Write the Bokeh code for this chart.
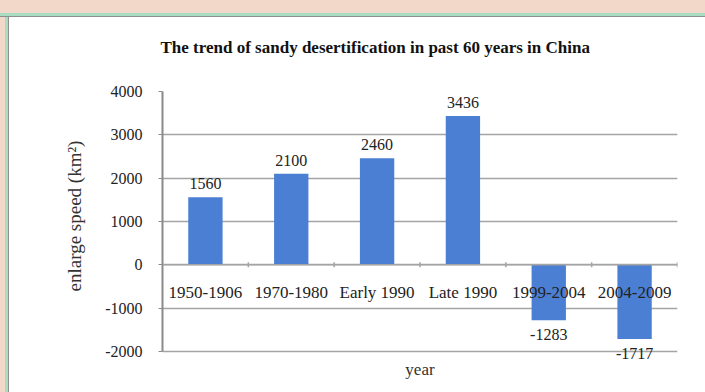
import numpy as np
from bokeh.plotting import figure
from bokeh.models import FactorRange, Range1d, FixedTicker, ColumnDataSource, Span, Title
from bokeh.core.properties import value
from bokeh.embed import file_html
from bokeh.resources import INLINE

categories = ["1950-1906", "1970-1980", "Early 1990", "Late 1990", "1999-2004", "2004-2009"]
speeds = [1560, 2100, 2460, 3436, -1283, -1717]
y_ticks = [-2000, -1000, 0, 1000, 2000, 3000, 4000]
title_text = "The trend of sandy desertification in past 60 years in China"
y_label = "enlarge speed (km\u00b2)"
x_label = "year"

FONT = "Liberation Serif"
W, H = 705, 392
BAR = "#4a7fd4"
GRID = "#a4a4a4"
AXIS = "#8a8a8a"
TXT = "#222222"

Y_MIN_VIEW = -2950   # extra room below -2000 so the lowest labels and "year" are not clipped

p = figure(width=W, height=H,
           x_range=FactorRange(*categories, range_padding=0),
           y_range=Range1d(Y_MIN_VIEW, y_ticks[-1]),
           output_backend="svg", toolbar_location=None,
           min_border_left=162, min_border_right=28,
           min_border_top=90, min_border_bottom=0)
p.background_fill_color = "white"
p.border_fill_color = None
p.outline_line_color = None
p.styles = {"background": "linear-gradient(to bottom, #f2d8c8 0px, #f2d8c8 13px, #a9dcc2 13px, #a9dcc2 16px, #8f8f8f 16px, #8f8f8f 17px, transparent 17px), "
                          "linear-gradient(to right, #f2d8c8 0px, #f2d8c8 5px, #a9dcc2 5px, #a9dcc2 8px, #8f8f8f 8px, #8f8f8f 9px, #ffffff 9px)"}

# title
p.title.text = title_text
p.title.text_font = FONT
p.title.text_font_size = "17px"
p.title.text_font_style = "bold"
p.title.text_color = "#111111"
p.title.align = "left"
p.title.offset = -2
p.title.standoff = 70

p.xaxis.visible = False
p.xgrid.visible = False

p.yaxis.ticker = FixedTicker(ticks=y_ticks)
p.yaxis.bounds = (y_ticks[0], y_ticks[-1])
p.yaxis.major_label_overrides = {t: str(t) for t in y_ticks}
p.yaxis.axis_line_color = AXIS
p.yaxis.axis_line_width = 2
p.yaxis.major_tick_line_color = AXIS
p.yaxis.major_tick_out = 4
p.yaxis.major_tick_in = 0
p.yaxis.minor_tick_line_color = None
p.yaxis.major_label_text_font = FONT
p.yaxis.major_label_text_font_size = "16px"
p.yaxis.major_label_text_color = TXT
p.yaxis.major_label_standoff = 16
p.ygrid.grid_line_color = GRID
p.ygrid.grid_line_width = 1.5

# y-axis title as a side title, placed so it is centred on the -2000..4000 span
ytitle = Title(text=y_label, text_font=FONT, text_font_size="19px", text_font_style="normal",
               text_color="#333333", align="left", offset=101, standoff=36)
p.add_layout(ytitle, "left")

# zero axis line with ticks at the category boundaries
p.add_layout(Span(location=0, dimension="width", line_color=GRID, line_width=1.5))
bounds = np.arange(1, len(categories) + 1)
p.segment(x0=bounds, y0=[-60] * len(bounds), x1=bounds, y1=[60] * len(bounds),
          line_color=GRID, line_width=1.5)

src = ColumnDataSource(dict(cat=categories, val=speeds, zero=[0] * len(categories)))
p.vbar(x="cat", top="val", bottom=0, width=0.4, source=src, fill_color=BAR, line_color=None)

# category labels along the zero line
p.text(x="cat", y="zero", text="cat", source=src, text_font=value(FONT), text_font_size="17px",
       text_color=TXT, text_align="center", text_baseline="middle", y_offset=28)

pos = [i for i, v in enumerate(speeds) if v >= 0]
neg = [i for i, v in enumerate(speeds) if v < 0]
p.text(x=[categories[i] for i in pos], y=[speeds[i] for i in pos], text=[str(speeds[i]) for i in pos],
       text_font=value(FONT), text_font_size="16px", text_color=TXT,
       text_align="center", text_baseline="bottom", y_offset=-8)
p.text(x=[categories[i] for i in neg], y=[speeds[i] for i in neg], text=[str(speeds[i]) for i in neg],
       text_font=value(FONT), text_font_size="16px", text_color=TXT,
       text_align="center", text_baseline="top", y_offset=9)

# x-axis title under the bottom gridline, centred on the plot area
p.text(x=[len(categories) / 2], y=[y_ticks[0]], text=[x_label], text_font=value(FONT),
       text_font_size="17px", text_color="#333333", text_align="center", text_baseline="middle",
       y_offset=18)

open("out.html", "w").write(file_html(p, INLINE))
